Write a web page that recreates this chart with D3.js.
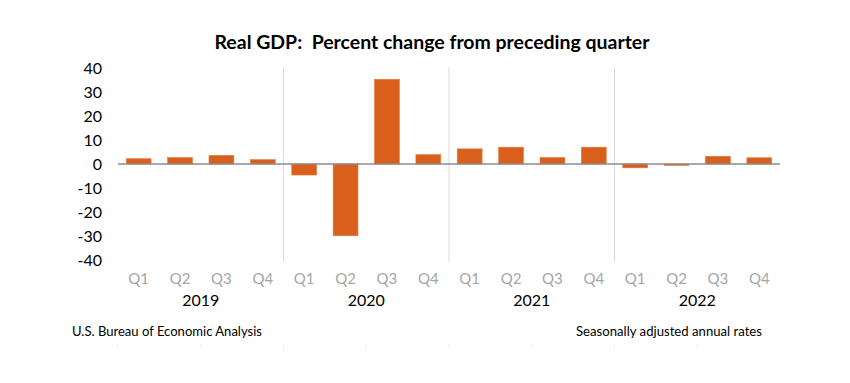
<!DOCTYPE html>
<html><head><meta charset="utf-8">
<script src="https://cdn.jsdelivr.net/npm/d3@7"></script>
<style>body{margin:0;background:#fff}svg{display:block}text{font-family:Lato,"Open Sans",sans-serif}</style>
</head><body>
<script>
const years = ["2019","2020","2021","2022"];
const quarters = ["Q1","Q2","Q3","Q4"];
const values = [2.2, 2.7, 3.6, 1.8, -4.6, -29.9, 35.3, 3.9, 6.3, 7.0, 2.7, 7.0, -1.6, -0.6, 3.2, 2.6];
const yTicks = [40, 30, 20, 10, 0, -10, -20, -30, -40];
const title = "Real GDP:  Percent change from preceding quarter";
const sourceNote = "U.S. Bureau of Economic Analysis";
const rateNote = "Seasonally adjusted annual rates";

const W = 850, H = 383;
const svg = d3.select("body").append("svg").attr("width", W).attr("height", H);
const cats = [];
years.forEach(y => quarters.forEach(q => cats.push(y + "-" + q)));
const data = cats.map((c, i) => ({cat: c, year: c.split("-")[0], q: c.split("-")[1], v: values[i]}));

const x = d3.scaleBand().domain(cats).range([118, 780]).paddingInner(0.4).paddingOuter(0.2);
const xYear = d3.scaleBand().domain(years).range([118, 780]);
const y = d3.scaleLinear().domain([-40, 40]).range([260, 68]);

// title
svg.append("text").attr("x", 432).attr("y", 49).attr("text-anchor", "middle")
  .attr("font-size", 19).attr("font-weight", "bold").attr("fill", "#000")
  .style("white-space", "pre")
  .attr("textLength", 435).attr("lengthAdjust", "spacingAndGlyphs").text(title);

// year dividers
svg.append("g").selectAll("line").data(years.slice(1)).join("line")
  .attr("x1", d => xYear(d)).attr("x2", d => xYear(d))
  .attr("y1", 67).attr("y2", 262).attr("stroke", "#d9d9d9").attr("stroke-width", 1);

// y axis labels
const yAxis = d3.axisLeft(y).tickValues(yTicks).tickSize(0).tickPadding(0).tickFormat(d => String(d));
const gy = svg.append("g").attr("transform", "translate(102,0)").call(yAxis);
gy.select(".domain").remove();
gy.selectAll("text").attr("font-size", 16).attr("fill", "#000").attr("font-family", "Lato,sans-serif");

// bars
svg.append("g").selectAll("rect").data(data).join("rect")
  .attr("x", d => x(d.cat)).attr("width", x.bandwidth())
  .attr("y", d => y(Math.max(0, d.v))).attr("height", d => Math.abs(y(d.v) - y(0)))
  .attr("fill", "#d95f1b").attr("stroke", "#e07a3e").attr("stroke-width", 0.6);

// zero line
svg.append("line").attr("x1", 118).attr("x2", 780).attr("y1", y(0)).attr("y2", y(0))
  .attr("stroke", "#8c8c8c").attr("stroke-width", 1.5);

// quarter labels
const xAxis = d3.axisBottom(x).tickSize(0).tickPadding(0).tickFormat(d => d.split("-")[1]);
const gx = svg.append("g").attr("transform", "translate(0,273)").call(xAxis);
gx.select(".domain").remove();
gx.selectAll("text").attr("font-size", 15).attr("fill", "#a6a6a6").attr("font-family", "Lato,sans-serif");

// year labels
svg.append("g").selectAll("text").data(years).join("text")
  .attr("x", d => xYear(d) + xYear.bandwidth() / 2).attr("y", 306)
  .attr("text-anchor", "middle").attr("font-size", 16).attr("fill", "#000").text(d => d);

// footer notes
svg.append("text").attr("x", 72).attr("y", 336).attr("font-size", 13).attr("fill", "#000")
  .attr("textLength", 190).attr("lengthAdjust", "spacingAndGlyphs").text(sourceNote);
svg.append("text").attr("x", 576).attr("y", 336).attr("font-size", 13).attr("fill", "#000")
  .attr("textLength", 186).attr("lengthAdjust", "spacingAndGlyphs").text(rateNote);

// faint ticks below
const tickCats = cats.filter((c, i) => i % 2 === 0);
svg.append("g").selectAll("line").data(tickCats).join("line")
  .attr("x1", d => x(d) - x.step() * 0.2).attr("x2", d => x(d) - x.step() * 0.2)
  .attr("y1", 344).attr("y2", 349).attr("stroke", "#efefef").attr("stroke-width", 1);
</script>
</body></html>
